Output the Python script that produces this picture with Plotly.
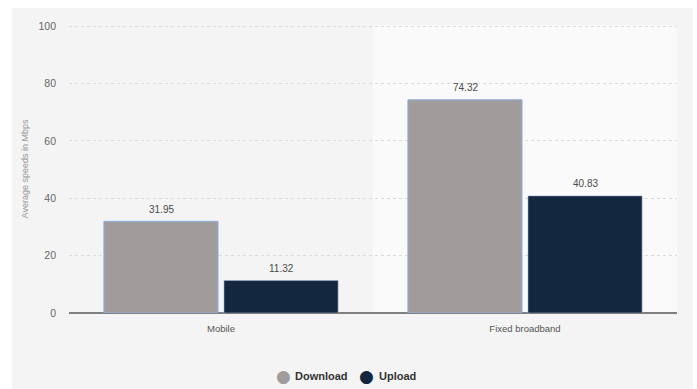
import plotly.graph_objects as go

categories = ["Mobile", "Fixed broadband"]
download = [31.95, 74.32]
upload = [11.32, 40.83]
y_ticks = [0, 20, 40, 60, 80, 100]
series_names = ["Download", "Upload"]

DL_COLOR = "#a19c9c"
UL_COLOR = "#13273e"

fig = go.Figure()
fig.add_trace(go.Bar(
    x=categories, y=download, name="Download",
    marker=dict(color=DL_COLOR, line=dict(color="#8aaee0", width=1)),
    showlegend=False,
))
fig.add_trace(go.Bar(
    x=categories, y=upload, name="Upload",
    marker=dict(color=UL_COLOR, line=dict(color="#9fb4cc", width=0.6)),
    showlegend=False,
))

# value labels above bars
for shift, vals in [(-60, download), (60, upload)]:
    for cat, v in zip(categories, vals):
        fig.add_annotation(x=cat, y=v, text=f"{v:.2f}", showarrow=False,
                           xshift=shift, yshift=12, yanchor="middle",
                           font=dict(size=10, color="#4a4a4a", family="Liberation Sans"))

fig.add_shape(type="rect", xref="paper", yref="paper",
              x0=-0.094, x1=1.026, y0=-0.27, y1=1.059,
              fillcolor="#f4f4f4", line=dict(width=0), layer="below")
fig.add_shape(type="rect", xref="x", yref="paper",
              x0=0.5, x1=1.5, y0=0, y1=1,
              fillcolor="#fafafa", line=dict(width=0), layer="below")

# legend built from text (round markers, compact spacing)
leg_y = -0.219
for name, col, mx, tx in [(series_names[0], DL_COLOR, 0.352, 0.368),
                          (series_names[1], UL_COLOR, 0.4885, 0.506)]:
    fig.add_annotation(xref="paper", yref="paper", x=mx, y=leg_y, text="●",
                       showarrow=False, xanchor="center", yanchor="middle",
                       font=dict(size=17, color=col, family="DejaVu Sans"))
    fig.add_annotation(xref="paper", yref="paper", x=tx, y=leg_y, text=f"<b>{name}</b>",
                       showarrow=False, xanchor="left", yanchor="middle",
                       font=dict(size=11, color="#333", family="Liberation Sans"))

fig.update_layout(
    width=697, height=389,
    margin=dict(l=69, r=20, t=25, b=76),
    paper_bgcolor="white", plot_bgcolor="#f4f4f4",
    barmode="group", bargap=0.21, bargroupgap=0.05,
    font=dict(family="Liberation Sans", color="#666"),
    showlegend=False,
)
fig.update_xaxes(
    showgrid=False, tickfont=dict(size=9.5, color="#555"), ticks="",
    ticklabelstandoff=8, range=[-0.5, 1.5], automargin=False,
)
fig.update_yaxes(
    range=[0, 100.4], tickvals=y_ticks, showgrid=True, gridcolor="#dcdcdc", griddash="dot",
    gridwidth=1, zeroline=True, zerolinecolor="#808080", zerolinewidth=1.5,
    tickfont=dict(size=10.5, color="#666"), ticklabelstandoff=12, automargin=False,
    title=dict(text="Average speeds in Mbps", font=dict(size=9, color="#999"), standoff=8),
)

fig.write_html("out.html")
